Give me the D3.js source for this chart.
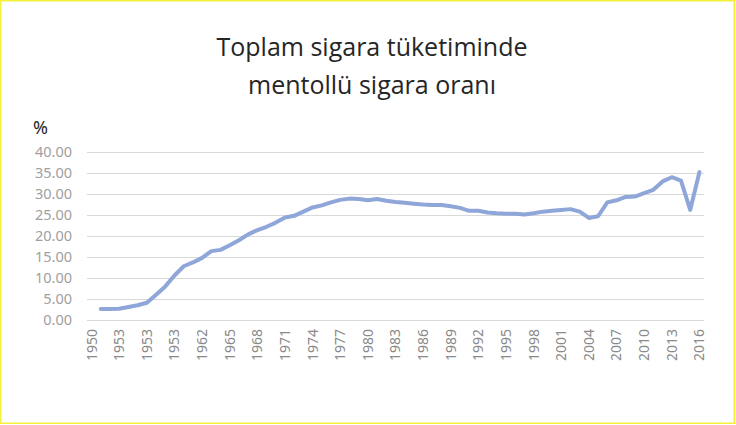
<!DOCTYPE html>
<html>
<head>
<meta charset="utf-8">
<script src="https://cdn.jsdelivr.net/npm/d3@7"></script>
<style>
  html, body { margin: 0; padding: 0; background: #fff; }
  svg { display: block; font-family: "Noto Sans", "Open Sans", sans-serif; }
</style>
</head>
<body>
<div id="chart"></div>
<script>
// category years (one per band), 1950 has no value
const years = [
  1950, 1951, 1952, 1953, 1954, 1955, 1956, 1957, 1958, 1959,
  1960, 1961, 1962, 1963, 1964, 1965, 1966, 1967, 1968, 1969,
  1970, 1971, 1972, 1973, 1974, 1975, 1976, 1977, 1978, 1979,
  1980, 1981, 1982, 1983, 1984, 1985, 1986, 1987, 1988, 1989,
  1990, 1991, 1992, 1993, 1994, 1995, 1996, 1997, 1998, 1999,
  2000, 2001, 2002, 2003, 2004, 2005, 2006, 2007, 2008, 2009,
  2010, 2011, 2012, 2013, 2014, 2015, 2016
];

// menthol share (%)
const mentholShare = [
  null, 2.6, 2.6, 2.7, 3.1, 3.5, 4.1, 6.0, 8.0, 10.6,
  12.8, 13.7, 14.8, 16.4, 16.7, 17.8, 19.0, 20.4, 21.4, 22.2,
  23.2, 24.4, 24.8, 25.8, 26.8, 27.3, 28.0, 28.6, 28.9, 28.8,
  28.5, 28.8, 28.4, 28.1, 27.9, 27.7, 27.5, 27.4, 27.4, 27.1,
  26.7, 26.0, 26.0, 25.6, 25.4, 25.3, 25.3, 25.1, 25.4, 25.8,
  26.0, 26.2, 26.4, 25.8, 24.3, 24.7, 28.0, 28.5, 29.3, 29.4,
  30.2, 31.0, 33.0, 34.0, 33.2, 26.2, 35.2
];

// labels shown on the x axis (every third category, as printed)
const xTickLabels = [
  "1950", "1953", "1953", "1953", "1962", "1965", "1968", "1971",
  "1974", "1977", "1980", "1983", "1986", "1989", "1992", "1995",
  "1998", "2001", "2004", "2007", "2010", "2013", "2016"
];

const yTicks = [0, 5, 10, 15, 20, 25, 30, 35, 40];

const width = 736;
const height = 425;
const margin = { top: 152, right: 32, bottom: 105, left: 87 };

const svg = d3.select("#chart")
  .append("svg")
  .attr("width", width)
  .attr("height", height);

// yellow frame
svg.append("rect")
  .attr("x", 0.75)
  .attr("y", 0.75)
  .attr("width", width - 2.5)
  .attr("height", height - 2.5)
  .attr("fill", "none")
  .attr("stroke", "#f2f23a")
  .attr("stroke-width", 1.5);

const x = d3.scaleBand()
  .domain(years.map((d, i) => i))
  .range([margin.left, width - margin.right])
  .paddingInner(0)
  .paddingOuter(0);

const y = d3.scaleLinear()
  .domain([0, 40])
  .range([height - margin.bottom, margin.top]);

const cx = (i) => x(i) + x.bandwidth() / 2;

// gridlines
svg.append("g")
  .selectAll("line")
  .data(yTicks)
  .join("line")
  .attr("x1", margin.left)
  .attr("x2", width - margin.right)
  .attr("y1", (d) => Math.round(y(d)) + 0.5)
  .attr("y2", (d) => Math.round(y(d)) + 0.5)
  .attr("stroke", "#d9d9d9")
  .attr("stroke-width", 1.2);

// y axis labels
const yAxis = svg.append("g")
  .attr("transform", `translate(${margin.left - 15},0)`)
  .call(d3.axisLeft(y).tickValues(yTicks).tickFormat(d3.format(".2f")).tickSize(0).tickPadding(0));
yAxis.select(".domain").remove();
yAxis.selectAll("text")
  .attr("fill", "#a0a0a0")
  .style("font-size", "14.5px")
  .style("font-family", "'Noto Sans', sans-serif");

// x axis labels, every third category
const tickIdx = years.map((d, i) => i).filter((i) => i % 3 === 0);
const xAxis = svg.append("g")
  .attr("transform", `translate(0,${height - margin.bottom})`)
  .call(d3.axisBottom(x).tickValues(tickIdx).tickFormat((d, k) => xTickLabels[k]).tickSize(0).tickPadding(0));
xAxis.select(".domain").remove();
xAxis.selectAll("text")
  .attr("fill", "#8a8a8a")
  .attr("text-anchor", "end")
  .attr("transform", "rotate(-90)")
  .attr("x", -9)
  .attr("y", 0)
  .attr("dy", "0.35em")
  .style("font-size", "14px")
  .style("font-family", "'Noto Sans', sans-serif");

// line
const line = d3.line()
  .defined((d) => d != null)
  .x((d, i) => cx(i))
  .y((d) => y(d));

svg.append("path")
  .datum(mentholShare)
  .attr("fill", "none")
  .attr("stroke", "#8ea6d8")
  .attr("stroke-width", 4)
  .attr("stroke-linejoin", "round")
  .attr("stroke-linecap", "round")
  .attr("d", line);

// title
const title = svg.append("text")
  .attr("text-anchor", "middle")
  .attr("fill", "#262626")
  .style("font-size", "25px")
  .style("font-family", "'Open Sans', sans-serif");
title.append("tspan").attr("x", 372).attr("y", 56).text("Toplam sigara tüketiminde");
title.append("tspan").attr("x", 372).attr("y", 94).text("mentollü sigara oranı");

// unit label
svg.append("text")
  .attr("x", 33)
  .attr("y", 134)
  .attr("fill", "#262626")
  .style("font-size", "18px")
  .text("%");
</script>
</body>
</html>
